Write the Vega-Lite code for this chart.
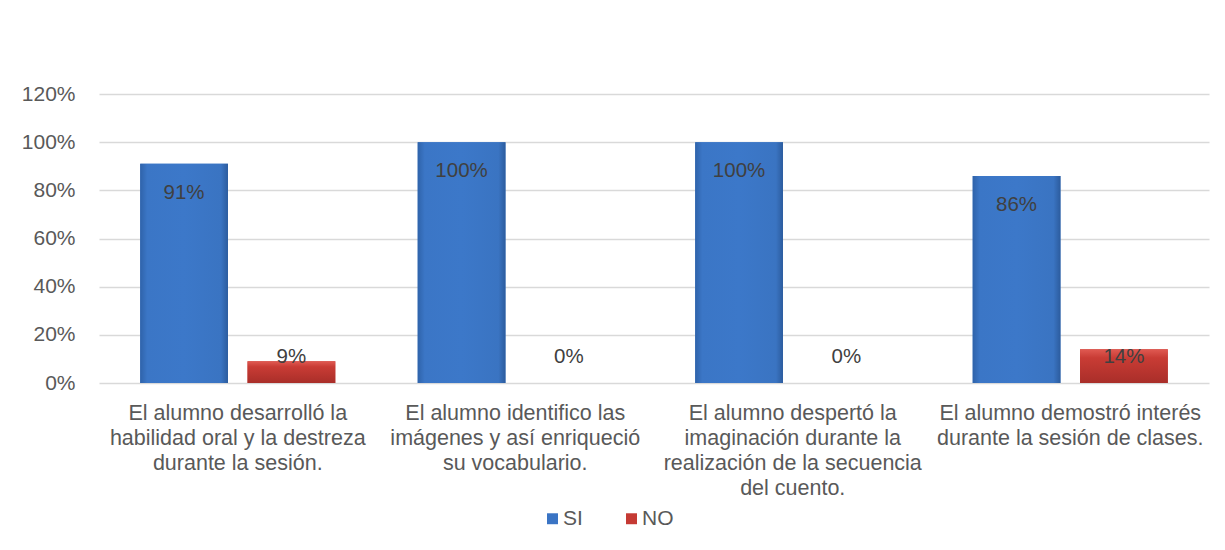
{
  "$schema": "https://vega.github.io/schema/vega-lite/v6.json",
  "autosize": {"type": "none"},
  "width": 1110,
  "height": 289,
  "padding": {"left": 99, "top": 94, "right": 16, "bottom": 167},
  "background": "white",
  "data": {
    "values": [
      {"cat": "El alumno desarrolló la|habilidad oral y la destreza|durante la sesión.", "serie": "SI", "value": 0.91},
      {"cat": "El alumno desarrolló la|habilidad oral y la destreza|durante la sesión.", "serie": "NO", "value": 0.09},
      {"cat": "El alumno identifico las|imágenes y así enriqueció|su vocabulario.", "serie": "SI", "value": 1.0},
      {"cat": "El alumno identifico las|imágenes y así enriqueció|su vocabulario.", "serie": "NO", "value": 0.0},
      {"cat": "El alumno despertó la|imaginación durante la|realización de la secuencia|del cuento.", "serie": "SI", "value": 1.0},
      {"cat": "El alumno despertó la|imaginación durante la|realización de la secuencia|del cuento.", "serie": "NO", "value": 0.0},
      {"cat": "El alumno demostró interés|durante la sesión de clases.", "serie": "SI", "value": 0.86},
      {"cat": "El alumno demostró interés|durante la sesión de clases.", "serie": "NO", "value": 0.14}
    ]
  },
  "transform": [
    {"calculate": "max(datum.value - 0.12, 0.108)", "as": "lab"}
  ],
  "encoding": {
    "x": {
      "field": "cat", "type": "nominal", "sort": null,
      "scale": {"paddingInner": 0, "paddingOuter": 0},
      "axis": {
        "title": null, "labelAngle": 0, "ticks": false, "domain": false,
        "labelExpr": "split(datum.value, '|')",
        "labelFont": "Liberation Sans", "labelFontSize": 21.5, "labelColor": "#595959",
        "labelLineHeight": 25.3, "labelPadding": 19, "labelLimit": 400
      }
    },
    "xOffset": {
      "field": "serie", "type": "nominal", "sort": ["SI", "NO"],
      "scale": {"paddingInner": 0.1825, "paddingOuter": 0.384}
    }
  },
  "layer": [
    {
      "mark": {"type": "bar"},
      "encoding": {
        "y": {
          "field": "value", "type": "quantitative",
          "scale": {"domain": [0, 1.2], "nice": false},
          "axis": {
            "title": null, "format": ".0%", "values": [0, 0.2, 0.4, 0.6, 0.8, 1.0, 1.2],
            "domain": false, "ticks": false, "gridColor": "#d9d9d9", "gridWidth": 1.5,
            "labelFont": "Liberation Sans", "labelFontSize": 21, "labelColor": "#595959",
            "labelPadding": 24
          }
        },
        "color": {
          "field": "serie", "type": "nominal",
          "scale": {"domain": ["SI", "NO"], "range": ["#3a74c4", "#c53a34"]},
          "legend": {
            "title": null, "orient": "none", "direction": "horizontal",
            "legendX": 443, "legendY": 414,
            "symbolType": "square", "symbolSize": 120, "symbolStrokeWidth": 0,
            "labelFont": "Liberation Sans", "labelFontSize": 21, "labelColor": "#595959",
            "columnPadding": 38, "labelOffset": 0
          }
        }
      }
    },
    {
      "transform": [{"filter": "datum.serie == 'SI'"}],
      "mark": {
        "type": "bar",
        "fill": {
          "gradient": "linear", "x1": 0, "y1": 0, "x2": 1, "y2": 0,
          "stops": [
            {"offset": 0, "color": "#2f63aa"},
            {"offset": 0.08, "color": "#3b76c6"},
            {"offset": 0.5, "color": "#3c78c9"},
            {"offset": 0.92, "color": "#3a74c2"},
            {"offset": 1, "color": "#2c5c9e"}
          ]
        }
      },
      "encoding": {"y": {"field": "value", "type": "quantitative"}}
    },
    {
      "transform": [{"filter": "datum.serie == 'NO' && datum.value > 0"}],
      "mark": {
        "type": "bar",
        "fill": {
          "gradient": "linear", "x1": 0, "y1": 0, "x2": 0, "y2": 1,
          "stops": [
            {"offset": 0, "color": "#e05a52"},
            {"offset": 0.25, "color": "#c93c35"},
            {"offset": 1, "color": "#a92e29"}
          ]
        }
      },
      "encoding": {"y": {"field": "value", "type": "quantitative"}}
    },
    {
      "mark": {"type": "text", "baseline": "middle", "align": "center", "font": "Liberation Sans", "fontSize": 20.5, "color": "#404040"},
      "encoding": {
        "y": {"field": "lab", "type": "quantitative"},
        "text": {"field": "value", "type": "quantitative", "format": ".0%"}
      }
    }
  ],
  "config": {"view": {"stroke": null}}
}
